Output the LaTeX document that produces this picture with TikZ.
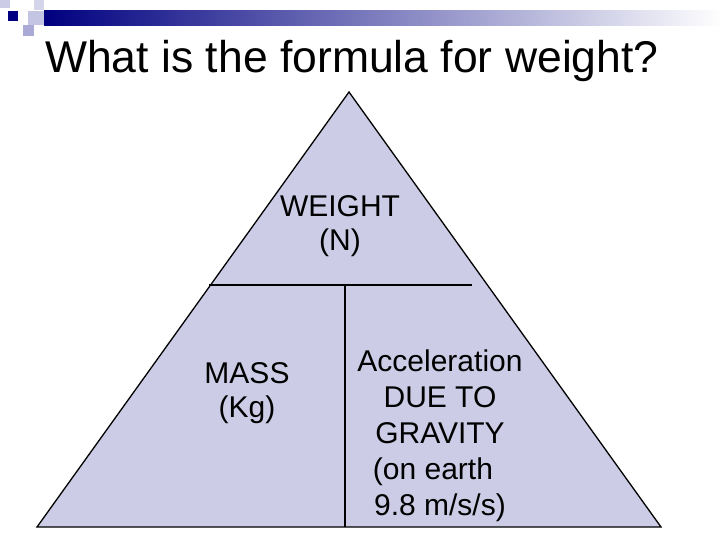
\documentclass[tikz,border=0pt]{standalone}
\usepackage{fontspec}
\setmainfont{Liberation Sans}
\definecolor{navy}{RGB}{0,0,128}
\definecolor{lav}{RGB}{204,204,230}
\definecolor{pale}{RGB}{170,170,215}
\begin{document}
\begin{tikzpicture}[x=1pt,y=-1pt,
    label/.style={font=\fontsize{30}{34}\selectfont,align=center,inner sep=0pt}]
  \useasboundingbox (0,0) rectangle (728,546);

  % slide decoration
  \fill[pale!60] (0,0) rectangle (10,8);
  \fill[navy] (8,11) rectangle (18,21);
  \fill[pale!70] (28,11) rectangle (44,25);
  \fill[pale] (23,25) rectangle (34,36);
  \fill[pale!50] (34,0) rectangle (44,10);
  \shade[left color=navy,right color=white] (44,10) rectangle (722,25);

  % title
  \node[anchor=west,font=\fontsize{44.5}{50}\selectfont,inner sep=0pt] (title) at (45,61) {What is the formula for weight?};

  % triangle
  \coordinate (top) at (349,92);
  \coordinate (bl) at (37,527);
  \coordinate (br) at (661,527);
  \filldraw[fill=lav,draw=black,line width=1.3pt] (top) -- (br) -- (bl) -- cycle;
  \coordinate (hl) at (209,285);
  \coordinate (hr) at (472,285);
  \coordinate (vt) at (345,285);
  \coordinate (vb) at (345,527);
  \draw[line width=1.3pt] (hl) -- (hr);
  \draw[line width=1.3pt] (vt) -- (vb);

  \node[label] (weight) at (340,226) {WEIGHT\\(N)};
  \node[label] (mass) at (247,393) {MASS\\(Kg)};
  \node[label,font=\fontsize{30}{36}\selectfont] (acc) at (440,436) {Acceleration\\DUE TO\\GRAVITY\\\hspace*{-14pt}(on earth\hspace*{16pt}\\9.8 m/s/s)};
\end{tikzpicture}
\end{document}
